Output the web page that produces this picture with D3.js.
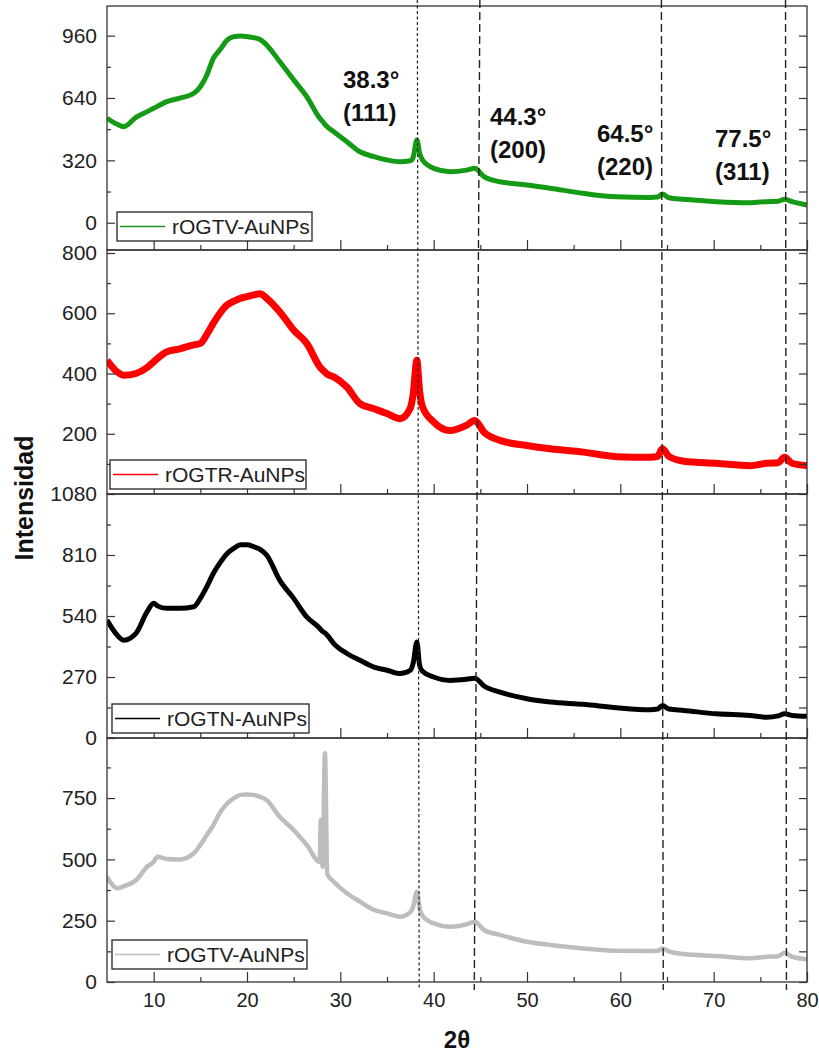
<!DOCTYPE html>
<html>
<head>
<meta charset="utf-8">
<script src="https://cdnjs.cloudflare.com/ajax/libs/d3/7.8.5/d3.min.js"></script>
<style>
  body { margin: 0; background: #fff; }
  svg { display: block; font-family: "Liberation Sans", Arial, sans-serif; }
  .legend text { font-size: 21px; fill: #222; }
  .note { font-size: 24px; font-weight: bold; fill: #111; }
  .title { font-weight: bold; fill: #111; }
</style>
</head>
<body>
<svg width="819" height="1053"></svg>
<script>
// 2θ sample positions
const twoTheta = [5, 6.1, 6.8, 8.1, 9.3, 10, 10.4, 11.4, 12.8, 14.3, 15, 15.7, 16.4, 17.1, 17.9,
  18.6, 19.3, 20, 20.7, 21.4, 22.1, 23.5, 25, 26.4, 27.8, 27.9, 28.1, 28.35, 28.6, 29.3,
  30.7, 32.1, 33.6, 35, 36.4, 37.5, 37.8, 38.2, 38.5, 38.8, 40, 41.75, 43.5, 44.4, 45.4,
  47.1, 50, 52.5, 56, 59.6, 63.2, 64.0, 64.5, 65.2, 66.8, 70.3, 73.9, 75.7, 76.9, 77.6, 78.4, 80]

const greenTV = [536, 505, 493, 540, 570, 587, 597, 621, 639, 664, 698, 758, 844, 887, 938,
  955, 958, 955, 950, 940, 912, 827, 733, 647, 536, 530, 520, 505, 492, 467,
  416, 364, 339, 322, 313, 318, 335, 425, 355, 322, 279, 262, 270, 279, 236,
  210, 194, 177, 151, 133, 130, 132, 147, 128, 120, 108, 103, 108, 110, 120, 108, 91]

const redTR = [444, 405, 394, 400, 420, 439, 450, 472, 482, 495, 500, 530, 567, 600, 628,
  640, 650, 655, 661, 665, 650, 605, 544, 500, 422, 418, 412, 405, 398, 389,
  355, 300, 283, 267, 250, 285, 330, 444, 340, 290, 239, 211, 228, 244, 205,
  178, 161, 150, 139, 124, 122, 125, 150, 125, 109, 102, 94, 102, 104, 122, 102, 94]

const blackTN = [522, 455, 433, 463, 559, 596, 585, 574, 574, 581, 618, 670, 729, 775, 818,
  840, 855, 855, 847, 835, 810, 699, 618, 536, 485, 480, 472, 465, 455, 418,
  374, 344, 314, 300, 285, 300, 330, 425, 320, 295, 270, 255, 260, 265, 230,
  203, 174, 159, 149, 134, 125, 128, 144, 128, 122, 107, 100, 92, 98, 107, 100, 96]

const grayTV = [429, 382, 390, 415, 470, 490, 511, 502, 500, 525, 559, 600, 640, 690, 729,
  750, 763, 765, 763, 755, 742, 674, 620, 559, 490, 661, 470, 933, 440, 409,
  362, 328, 294, 280, 266, 285, 307, 368, 300, 270, 239, 225, 235, 246, 212,
  192, 164, 151, 137, 127, 126, 127, 137, 125, 114, 106, 97, 103, 105, 119, 103, 93]

const legendNames = ["rOGTV-AuNPs", "rOGTR-AuNPs", "rOGTN-AuNPs", "rOGTV-AuNPs"]

const yTicks = [[0, 320, 640, 960], [200, 400, 600, 800], [0, 270, 540, 810, 1080], [0, 250, 500, 750]]
const yMinor = [[160, 480, 800], [100, 300, 500, 700], [135, 405, 675, 945], [125, 375, 625, 875]]
const xTicks = [10, 20, 30, 40, 50, 60, 70, 80]
const xMinor = [15, 25, 35, 45, 55, 65, 75]

const peakLabels = ["38.3°", "44.3°", "64.5°", "77.5°"]
const millerLabels = ["(111)", "(200)", "(220)", "(311)"]
const markerTop = [38.25, 44.95, 64.4, 77.7]
const markerBottom = [38.45, 44.35, 64.6, 77.8]

// layout
const left = 107, right = 807, top0 = 6, panelH = 244
const panels = [
  {values: greenTV, color: "#159a15", width: 5, domain: [-140, 1112], legend: [117, 212, 195]},
  {values: redTR, color: "#ff0000", width: 7, domain: [0, 810], legend: [110, 460, 196]},
  {values: blackTN, color: "#000000", width: 5, domain: [0, 1080], legend: [112, 704, 197]},
  {values: grayTV, color: "#bdbdbd", width: 4.5, domain: [0, 995], legend: [112, 940, 195]}
]
const notePos = [[343, 88], [490, 125], [597, 142], [715, 147]]

const svg = d3.select("svg")

const x = d3.scaleLinear().domain([5, 80]).range([left, right])

const styleAxis = (g, size) => {
  g.select(".domain").remove()
  g.selectAll("line").attr("stroke", "#333").attr("stroke-width", 1.2)
  g.selectAll("text").attr("fill", "#222")
  g.attr("font-size", size).attr("font-family", "Liberation Sans, Arial, sans-serif")
}

panels.forEach((p, i) => {
  const top = top0 + i * panelH
  const y = d3.scaleLinear().domain(p.domain).range([top + panelH, top])
  const g = svg.append("g").attr("class", "panel")

  svg.append("clipPath")
    .attr("id", `clip${i}`)
    .append("rect")
    .attr("x", left)
    .attr("y", top)
    .attr("width", right - left)
    .attr("height", panelH)

  g.append("path")
    .datum(twoTheta.map((t, j) => [t, p.values[j]]))
    .attr("clip-path", `url(#clip${i})`)
    .attr("fill", "none")
    .attr("stroke", p.color)
    .attr("stroke-width", p.width)
    .attr("stroke-linejoin", "round")
    .attr("d", d3.line().x(d => x(d[0])).y(d => y(d[1])).curve(d3.curveMonotoneX))

  // left ticks
  g.append("g")
    .attr("transform", `translate(${left},0)`)
    .call(d3.axisLeft(y).tickValues(yTicks[i]).tickSize(-8).tickPadding(10).tickFormat(d3.format("d")))
    .call(s => styleAxis(s, 21))
  g.append("g")
    .attr("transform", `translate(${left},0)`)
    .call(d3.axisLeft(y).tickValues(yMinor[i]).tickSize(-4).tickFormat(""))
    .call(s => styleAxis(s, 21))

  // right ticks
  g.append("g")
    .attr("transform", `translate(${right},0)`)
    .call(d3.axisRight(y).tickValues(yTicks[i].concat(yMinor[i])).tickSize(-8).tickFormat(""))
    .call(s => styleAxis(s, 21))

  // bottom ticks
  g.append("g")
    .attr("transform", `translate(0,${top + panelH})`)
    .call(d3.axisBottom(x).tickValues(xTicks).tickSize(-10).tickPadding(11)
      .tickFormat(i === 3 ? d3.format("d") : ""))
    .call(s => styleAxis(s, 20))
  g.append("g")
    .attr("transform", `translate(0,${top + panelH})`)
    .call(d3.axisBottom(x).tickValues(xMinor).tickSize(-5).tickFormat(""))
    .call(s => styleAxis(s, 20))

  g.append("rect")
    .attr("x", left)
    .attr("y", top)
    .attr("width", right - left)
    .attr("height", panelH)
    .attr("fill", "none")
    .attr("stroke", "#333")
    .attr("stroke-width", 1.3)

  // legend
  const [lx, ly, lw] = p.legend
  const leg = g.append("g").attr("class", "legend")
  leg.append("rect")
    .attr("x", lx)
    .attr("y", ly)
    .attr("width", lw)
    .attr("height", 29)
    .attr("fill", "#fff")
    .attr("stroke", "#222")
    .attr("stroke-width", 1.3)
  leg.append("line")
    .attr("x1", lx + 3)
    .attr("x2", lx + 48)
    .attr("y1", ly + 14.5)
    .attr("y2", ly + 14.5)
    .attr("stroke", p.color)
    .attr("stroke-width", 1.3)
  leg.append("text")
    .attr("x", lx + 55)
    .attr("y", ly + 21.5)
    .text(legendNames[i])
})

// peak marker lines
svg.selectAll("line.marker")
  .data(markerTop)
  .enter()
  .append("line")
  .attr("class", "marker")
  .attr("x1", d => x(d))
  .attr("y1", 0)
  .attr("x2", (d, i) => x(markerBottom[i]))
  .attr("y2", 990)
  .attr("stroke", "#222")
  .attr("stroke-width", (d, i) => i === 0 ? 1.2 : 1.4)
  .attr("stroke-dasharray", (d, i) => i === 0 ? "3,2.5" : "8,4")

const notes = svg.selectAll("text.note")
  .data(peakLabels)
  .enter()
  .append("text")
  .attr("class", "note")
  .attr("x", (d, i) => notePos[i][0])
  .attr("y", (d, i) => notePos[i][1])

notes.append("tspan").text(d => d)
notes.append("tspan")
  .attr("x", (d, i) => notePos[i][0])
  .attr("dy", 33)
  .text((d, i) => millerLabels[i])

svg.append("text")
  .attr("class", "title")
  .attr("transform", "translate(33,498) rotate(-90)")
  .attr("text-anchor", "middle")
  .attr("font-size", 25)
  .text("Intensidad")

svg.append("text")
  .attr("class", "title")
  .attr("x", (left + right) / 2)
  .attr("y", 1048)
  .attr("text-anchor", "middle")
  .attr("font-size", 24)
  .text("2θ")
</script>
</body>
</html>
